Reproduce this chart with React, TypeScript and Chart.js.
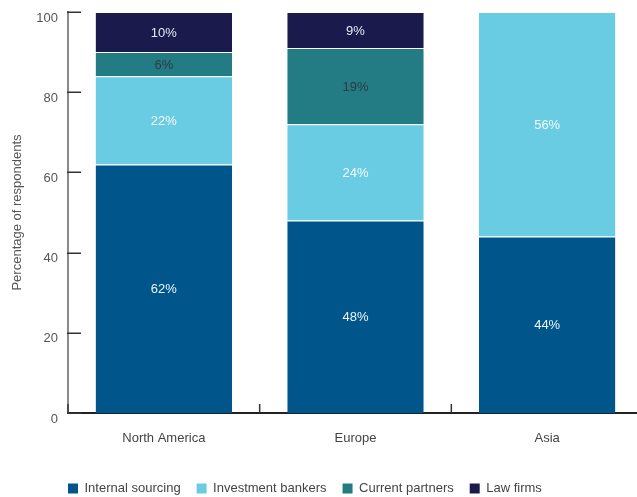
import { useEffect, useRef } from 'react';
import { Chart, registerables } from 'chart.js';

Chart.register(...registerables);

const categories = ['North America', 'Europe', 'Asia'];
const internalSourcing = [62, 48, 44];
const investmentBankers = [22, 24, 56];
const currentPartners = [6, 19, null];
const lawFirms = [10, 9, null];
const yTickValues = [0, 20, 40, 60, 80, 100];

const seriesNames = ['Internal sourcing', 'Investment bankers', 'Current partners', 'Law firms'];
const seriesColors = ['#00558b', '#69cce2', '#237b84', '#1b1a4d'];
const labelColors = ['#eef3f8', '#f4fbfd', '#2c3c40', '#e6e8f0'];

const FONT = '"Liberation Sans", Arial, Helvetica, sans-serif';

const segLabels = {
  id: 'segLabels',
  afterDatasetsDraw(chart: any) {
    const ctx = chart.ctx;
    ctx.save();
    ctx.font = `13px ${FONT}`;
    ctx.textAlign = 'center';
    ctx.textBaseline = 'middle';
    chart.data.datasets.forEach((ds: any, di: number) => {
      const meta = chart.getDatasetMeta(di);
      meta.data.forEach((el: any, i: number) => {
        const v = ds.data[i];
        if (v == null || v === 0) return;
        const p = el.getProps(['x', 'y', 'base'], true);
        ctx.fillStyle = labelColors[di];
        ctx.fillText(`${v}%`, p.x, (p.y + p.base) / 2 + 1);
      });
    });
    ctx.restore();
  },
};

const axisTicks = {
  id: 'axisTicks',
  afterLayout(chart: any) {
    const lg = chart.legend;
    if (lg) {
      const shift = chart.chartArea.left - 16 - lg.left;
      lg.left += shift;
      lg.right += shift;
    }
  },
  afterDraw(chart: any) {
    const ctx = chart.ctx;
    const area = chart.chartArea;
    const ys = chart.scales.y;
    const xs = chart.scales.x;
    ctx.save();
    ctx.strokeStyle = '#333';
    ctx.lineWidth = 1.5;
    yTickValues.forEach((v) => {
      const py = Math.round(ys.getPixelForValue(v)) + 0.25;
      ctx.beginPath();
      ctx.moveTo(area.left - 1, py);
      ctx.lineTo(area.left + 13, py);
      ctx.stroke();
    });
    categories.forEach((_, i) => {
      const px =
        i === 0
          ? area.left
          : (xs.getPixelForValue(i - 1) + xs.getPixelForValue(i)) / 2;
      ctx.beginPath();
      ctx.moveTo(px, area.bottom);
      ctx.lineTo(px, area.bottom - 9);
      ctx.stroke();
    });
    ctx.restore();
  },
};

export default function App() {
  const ref = useRef<HTMLCanvasElement>(null);
  useEffect(() => {
    if (!ref.current) return;
    Chart.defaults.font.family = FONT;
    const seriesData = [internalSourcing, investmentBankers, currentPartners, lawFirms];
    const chart = new Chart(ref.current, {
      type: 'bar',
      data: {
        labels: categories,
        datasets: seriesData.map((d, i) => ({
          label: seriesNames[i],
          data: d,
          backgroundColor: seriesColors[i],
          borderColor: '#ffffff',
          borderWidth: { top: 1, left: 0, right: 0, bottom: 0 },
          borderSkipped: false,
          barPercentage: 0.712,
          categoryPercentage: 1,
        })),
      },
      options: {
        responsive: false,
        animation: false,
        devicePixelRatio: 1,
        layout: { padding: { top: 12, right: 7, bottom: 0, left: 0 } },
        plugins: {
          tooltip: { enabled: false },
          legend: {
            position: 'bottom',
            align: 'start',
            labels: {
              boxWidth: 10,
              boxHeight: 10,
              padding: 16,
              color: '#444',
              font: { size: 13, family: FONT },
              generateLabels: (c: any) =>
                c.data.datasets.map((ds: any, i: number) => ({
                  text: ds.label,
                  fillStyle: seriesColors[i],
                  strokeStyle: seriesColors[i],
                  lineWidth: 0,
                  fontColor: '#444',
                  datasetIndex: i,
                  hidden: false,
                })),
            },
          },
        },
        scales: {
          x: {
            stacked: true,
            grid: { display: false, drawTicks: false },
            border: { display: true, color: '#222', width: 2 },
            ticks: { padding: 18, color: '#444', font: { size: 13 } },
            afterFit: (s: any) => {
              s.height = 53;
            },
          },
          y: {
            stacked: true,
            min: 0,
            max: 100,
            grid: { display: false, drawTicks: false },
            border: { display: true, color: '#8a8a8a', width: 2 },
            ticks: {
              stepSize: 20,
              padding: 10,
              labelOffset: 6,
              color: '#555',
              font: { size: 13 },
            },
            title: {
              display: true,
              text: 'Percentage of respondents',
              color: '#555',
              font: { size: 13 },
              padding: { top: 10, bottom: 0 },
            },
            afterFit: (s: any) => {
              s.width = 68;
              s.paddingTop = 4;
              s.paddingBottom = 4;
            },
          },
        },
      },
      plugins: [segLabels, axisTicks],
    });
    return () => chart.destroy();
  }, []);
  return (
    <div
      style={{
        position: 'fixed',
        left: 0,
        top: 0,
        width: 637,
        height: 497,
        overflow: 'hidden',
        background: '#fff',
      }}
    >
      <canvas ref={ref} width={650} height={505} style={{ display: 'block' }} />
    </div>
  );
}
